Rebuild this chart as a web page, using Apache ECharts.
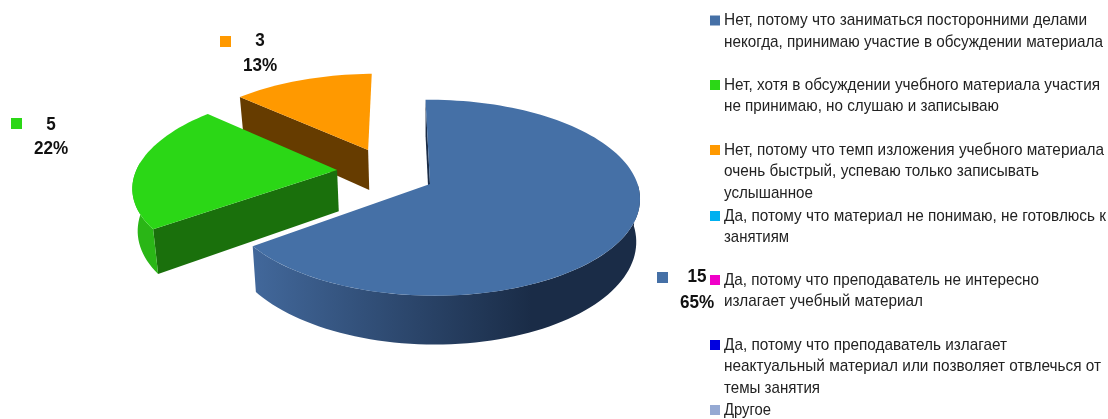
<!DOCTYPE html>
<html><head><meta charset="utf-8">
<style>html,body{margin:0;padding:0;background:#fff}#c{width:1108px;height:419px}</style>
<script src="https://cdn.jsdelivr.net/npm/echarts@6/dist/echarts.min.js"></script>
</head><body><div id="c"></div>
<script>
// ---- data ----
var categories = [
  ["Нет, потому что заниматься посторонними делами","некогда, принимаю участие в обсуждении материала"],
  ["Нет, хотя в обсуждении учебного материала участия","не принимаю, но слушаю и записываю"],
  ["Нет, потому что темп изложения учебного материала","очень быстрый, успеваю только записывать","услышанное"],
  ["Да, потому что материал не понимаю, не готовлюсь к","занятиям"],
  ["Да, потому что преподаватель не интересно","излагает учебный материал"],
  ["Да, потому что преподаватель излагает","неактуальный материал или позволяет отвлечься от","темы занятия"],
  ["Другое"]
];
var values = [15, 5, 3, 0, 0, 0, 0];
var colors = ["#4570a6","#2bd716","#ff9900","#00b0f0","#f000c8","#0000e0","#95a9d3"];
var wallColors = ["#1a2c47","#1a700c","#663c00"];
var rimColors = [null,"#2ab616",null];

// ---- layout of the tilted pie ----
var P = {ax:430, ay:184, A:97, B:208, k:0.1414, T:42, s:0.982, start:-1.2, frontFrom:90, frontTo:275};
var origins = [[0,0],[-0.456,0.147],[-0.313,0.369]];
var radii = [0.99,0.985,0.985];
var rimShift = [[0.008,-0.012],[0,0],[0,0]];
var labelPos = [
  {mark:[657,272], x:697, y1:277, y2:303},
  {mark:[11,118],  x:51,  y1:125, y2:149},
  {mark:[220,36],  x:260, y1:41,  y2:66}
];
var LABEL_FONT = '"Liberation Sans",sans-serif';

function project(u,v){
  var d = 1+P.k*v;
  return [P.ax+P.B*u/d, P.ay-P.A*v/d];
}
function lower(u,v){
  var p = project(u,v);
  return [P.ax+(p[0]-P.ax)*P.s, p[1]+P.T/(1+P.k*v)];
}
function rim(i,deg,fn){
  var t = deg*Math.PI/180, o = origins[i], r = radii[i], sh = rimShift[i];
  var v = o[1]+r*Math.cos(t);
  return fn(o[0]+r*Math.sin(t)+sh[0]+sh[1]*v, v);
}
var total = values.reduce(function(a,b){return a+b;},0);
function startAngle(i){
  var s = 0;
  for (var j=0;j<i;j++) s += values[j];
  return P.start+s/total*360;
}
function arc(i,a0,a1,fn){
  var pts=[];
  for (var a=a0;a<a1;a+=2) pts.push(rim(i,a,fn));
  pts.push(rim(i,a1,fn));
  return pts;
}
function renderSlice(params, api){
  var i = api.value(0), val = api.value(1);
  if (!val) return null;
  var a0 = startAngle(i), a1 = a0+val/total*360, o = origins[i];
  var apexT = project(o[0],o[1]), apexL = lower(o[0],o[1]);
  var topArc = arc(i,a0,a1,project);
  var kids = [
    {type:"polygon",shape:{points:[apexT,rim(i,a0,project),rim(i,a0,lower),apexL]},style:{fill:wallColors[i]}}
  ];
  var f0 = Math.max(a0,P.frontFrom), f1 = Math.min(a1,P.frontTo);
  if (f1>f0){
    var fill = rimColors[i] || new echarts.graphic.LinearGradient(0,0,1,0,[
      {offset:0,color:"#42689b"},{offset:0.72,color:"#1a2c47"},{offset:1,color:"#1a2c47"}]);
    kids.push({type:"polygon",shape:{points:arc(i,f0,f1,project).concat(arc(i,f0,f1,lower).reverse())},style:{fill:fill}});
  }
  kids.push({type:"polygon",shape:{points:[apexT].concat(topArc)},style:{fill:colors[i]}});
  var lp = labelPos[i];
  var txt = function(s,y){return {type:"text",silent:true,x:lp.x,y:y,scaleX:0.9,
      style:{text:s,align:"center",verticalAlign:"middle",fill:"#111",fontFamily:LABEL_FONT,fontWeight:"bold",fontSize:19}};};
  kids.push({type:"rect",shape:{x:lp.mark[0],y:lp.mark[1],width:11,height:11},style:{fill:colors[i]}});
  kids.push(txt(String(val),lp.y1));
  kids.push(txt(Math.round(val/total*100)+"%",lp.y2));
  return {type:"group",children:kids};
}
// drawn back to front
var sliceData = values.map(function(v,i){return [i,v];}).reverse();

// ---- legend ----
var LEG = {x:710, size:10, textX:724, line:21.7, font:'"Liberation Sans",sans-serif', fontSize:17};
var legendRowY = [20.5,85,150,216,280,345,410];
var legendLineWidths = [[363,379],[376,275],[380,315,89],[382,65],[315,199],[283,377,96],[47]];
var measure = document.createElement("canvas").getContext("2d");
measure.font = LEG.fontSize+"px "+LEG.font;
var legend = [];
categories.forEach(function(lines,i){
  var cy = legendRowY[i];
  legend.push({type:"rect",shape:{x:LEG.x,y:cy-LEG.size/2,width:LEG.size,height:LEG.size},style:{fill:colors[i]}});
  lines.forEach(function(s,j){
    legend.push({type:"text",x:LEG.textX,y:cy+j*LEG.line,scaleX:legendLineWidths[i][j]/measure.measureText(s).width,
      style:{text:s,verticalAlign:"middle",align:"left",fill:"#222",fontFamily:LEG.font,fontSize:LEG.fontSize}});
  });
});

var chart = echarts.init(document.getElementById("c"),null,{renderer:"canvas"});
chart.setOption({
  animation:false,
  backgroundColor:"#fff",
  series:[{type:"custom",coordinateSystem:"none",renderItem:renderSlice,data:sliceData,silent:true}],
  graphic:{elements:legend}
});
</script></body></html>
